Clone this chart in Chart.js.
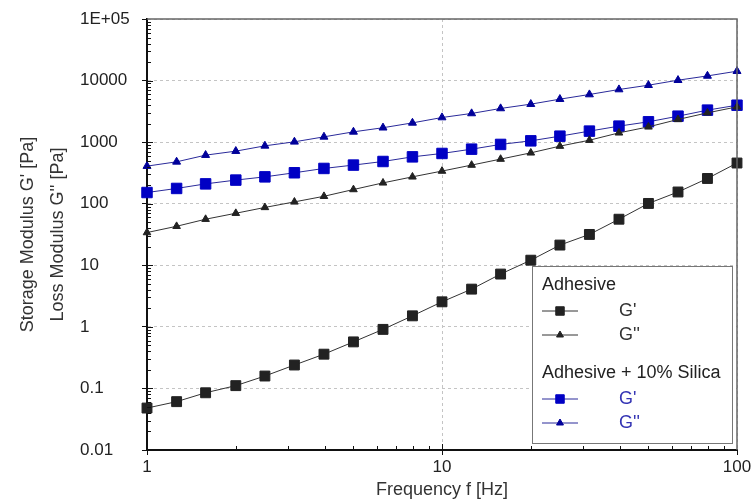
<!DOCTYPE html>
<html>
<head>
<meta charset="utf-8">
<title>Storage and loss modulus vs frequency</title>
<script src="https://cdn.jsdelivr.net/npm/chart.js"></script>
<style>
  html, body { margin: 0; padding: 0; background: #fff; }
  #wrap { width: 755px; height: 499px; }
</style>
</head>
<body>
<div id="wrap"><canvas id="chart" width="755" height="499"></canvas></div>
<script>
// frequency points (Hz), 10 per decade
const freq = [1, 1.26, 1.58, 2, 2.51, 3.16, 3.98, 5.01, 6.31, 7.94, 10,
    12.6, 15.8, 20, 25.1, 31.6, 39.8, 50.1, 63.1, 79.4, 100]

// Adhesive
const adhesiveGp = [0.048, 0.061, 0.085, 0.111, 0.159, 0.24, 0.36, 0.57, 0.91, 1.51, 2.55,
    4.1, 7.2, 12.1, 21.3, 31.7, 56, 101, 155, 257, 458]
const adhesiveGpp = [34, 43, 56, 70, 87, 107, 132, 170, 218, 273, 339,
    424, 530, 670, 861, 1075, 1415, 1770, 2335, 2990, 3740]

// Adhesive + 10% Silica
const silicaGp = [152, 177, 210, 242, 273, 318, 374, 424, 485, 577, 655,
    769, 918, 1050, 1250, 1510, 1820, 2140, 2640, 3310, 3980]
const silicaGpp = [408, 479, 615, 714, 871, 1012, 1219, 1469, 1715, 2055, 2513,
    2924, 3524, 4140, 4990, 5940, 7160, 8410, 10140, 11900, 14200]

const xTickValues = [1, 10, 100]
const xTickLabels = ['1', '10', '100']
const yTickValues = [0.01, 0.1, 1, 10, 100, 1000, 10000, 100000]
const yTickLabels = ['0.01', '0.1', '1', '10', '100', '1000', '10000', '1E+05']

const groupNames = ['Adhesive', 'Adhesive + 10% Silica']

const FONT = "'Liberation Sans', Arial, sans-serif"
const BLACK = '#222'
const BLUE = '#0000c4'

const toPoints = (ys) => freq.map((f, i) => ({ x: f, y: ys[i] }))

// minor ticks inside the axes, major ticks crossing, top/right frame
const axisDecor = {
    id: 'axisDecor',
    afterDatasetsDraw(chart) {
        const { ctx, chartArea } = chart
        const xs = chart.scales.x
        const ys = chart.scales.y
        ctx.save()
        ctx.strokeStyle = '#666'
        ctx.lineWidth = 1.5
        ctx.beginPath()
        ctx.moveTo(chartArea.left, chartArea.top)
        ctx.lineTo(chartArea.right, chartArea.top)
        ctx.lineTo(chartArea.right, chartArea.bottom)
        ctx.stroke()

        ctx.strokeStyle = '#111'
        ctx.lineWidth = 1
        ctx.beginPath()
        for (let d = 1; d < 100; d *= 10) {
            for (let m = 1; m < 10; m++) {
                const px = Math.round(xs.getPixelForValue(d * m)) + 0.5
                ctx.moveTo(px, chartArea.bottom)
                ctx.lineTo(px, chartArea.bottom - (m === 1 ? 6 : 4))
            }
        }
        for (let d = 0.01; d < 1e5; d *= 10) {
            for (let m = 1; m < 10; m++) {
                const py = Math.round(ys.getPixelForValue(d * m)) + 0.5
                ctx.moveTo(chartArea.left, py)
                ctx.lineTo(chartArea.left + (m === 1 ? 6 : 4), py)
            }
        }
        ctx.stroke()
        ctx.restore()
    },
}

// grouped legend box in the lower right corner
const groupLegend = {
    id: 'groupLegend',
    afterDraw(chart) {
        const { ctx, chartArea } = chart
        const bx = chartArea.right - 205
        const by = chartArea.bottom - 184
        ctx.save()
        ctx.fillStyle = '#fff'
        ctx.fillRect(bx, by, 200, 177)
        ctx.strokeStyle = '#777'
        ctx.lineWidth = 1
        ctx.strokeRect(bx + 0.5, by + 0.5, 200, 177)

        ctx.font = '18px ' + FONT
        ctx.textBaseline = 'middle'
        ctx.textAlign = 'left'
        let y = by + 19
        groupNames.forEach((name, g) => {
            ctx.fillStyle = '#222'
            ctx.fillText(name, bx + 10, y)
            y += 26
            chart.data.datasets.filter((ds) => ds.group === g).forEach((ds) => {
                ctx.strokeStyle = ds.borderColor
                ctx.lineWidth = 1
                ctx.beginPath()
                ctx.moveTo(bx + 10, y)
                ctx.lineTo(bx + 46, y)
                ctx.stroke()
                ctx.fillStyle = ds.pointBackgroundColor
                ctx.strokeStyle = ds.pointBorderColor
                Chart.helpers.drawPoint(ctx, {
                    pointStyle: ds.pointStyle,
                    radius: ds.pointStyle === 'rect' ? 6 : 4,
                    borderWidth: 1,
                    rotation: 0,
                }, bx + 28, y)
                ctx.fillStyle = ds.textColor
                ctx.fillText(ds.label, bx + 87, y)
                y += 24
            })
            y += 14
        })
        ctx.restore()
    },
}

const makeSet = (label, data, group, style, color, lineColor, textColor, radius) => ({
    label: label,
    data: toPoints(data),
    group: group,
    borderColor: lineColor,
    borderWidth: 1,
    pointStyle: style,
    pointRadius: radius,
    pointHoverRadius: radius,
    pointBackgroundColor: color,
    pointBorderColor: color,
    pointBorderWidth: 1,
    textColor: textColor,
    tension: 0,
    fill: false,
    clip: false,
})

new Chart(document.getElementById('chart'), {
    type: 'line',
    data: {
        datasets: [
            makeSet("G''", silicaGpp, 1, 'triangle', '#00009a', '#2a2a9a', '#3434b4', 4.6),
            makeSet("G'", silicaGp, 1, 'rect', BLUE, '#2a2a9a', '#3434b4', 7.4),
            makeSet("G''", adhesiveGpp, 0, 'triangle', BLACK, '#333', '#333', 4.4),
            makeSet("G'", adhesiveGp, 0, 'rect', BLACK, '#333', '#333', 7),
        ].reverse(),
    },
    options: {
        responsive: false,
        animation: false,
        events: [],
        layout: { padding: { left: 0, right: 18, top: 19, bottom: 0 } },
        plugins: {
            legend: { display: false },
            tooltip: { enabled: false },
        },
        scales: {
            x: {
                type: 'logarithmic',
                min: 1,
                max: 100,
                afterBuildTicks: (s) => { s.ticks = xTickValues.map((v) => ({ value: v })) },
                afterFit: (s) => { s.height = 49 },
                ticks: {
                    callback: (v, i) => xTickLabels[i],
                    autoSkip: false,
                    maxRotation: 0,
                    padding: 2,
                    color: '#222',
                    font: { family: FONT, size: 17 },
                },
                grid: {
                    color: '#c4c4c4',
                    lineWidth: 1,
                    tickLength: 5,
                    tickColor: '#111',
                },
                border: { display: true, color: '#111', width: 2, dash: [3, 3] },
                title: {
                    display: true,
                    text: 'Frequency f [Hz]',
                    color: '#333',
                    font: { family: FONT, size: 18, lineHeight: 1 },
                    padding: { top: 0, bottom: 0 },
                },
            },
            y: {
                type: 'logarithmic',
                min: 0.01,
                max: 100000,
                weight: 0,
                afterBuildTicks: (s) => { s.ticks = yTickValues.map((v) => ({ value: v })) },
                afterFit: (s) => { s.width = 67 },
                ticks: {
                    callback: (v, i) => yTickLabels[i],
                    autoSkip: false,
                    crossAlign: 'far',
                    color: '#222',
                    font: { family: FONT, size: 17 },
                },
                grid: {
                    color: '#c4c4c4',
                    lineWidth: 1,
                    tickLength: 5,
                    tickColor: '#111',
                },
                border: { display: true, color: '#111', width: 2, dash: [3, 3] },
            },
            yTitle: {
                type: 'linear',
                position: 'left',
                weight: 1,
                afterFit: (s) => { s.width = 80 },
                grid: { display: false },
                ticks: { display: false },
                border: { display: false },
                title: {
                    display: true,
                    text: ["Storage Modulus G' [Pa]", "Loss Modulus G'' [Pa]"],
                    color: '#333',
                    font: { family: FONT, size: 18, lineHeight: 30 / 18 },
                    padding: { top: 13, bottom: 0 },
                },
            },
        },
    },
    plugins: [axisDecor, groupLegend],
})
</script>
</body>
</html>
